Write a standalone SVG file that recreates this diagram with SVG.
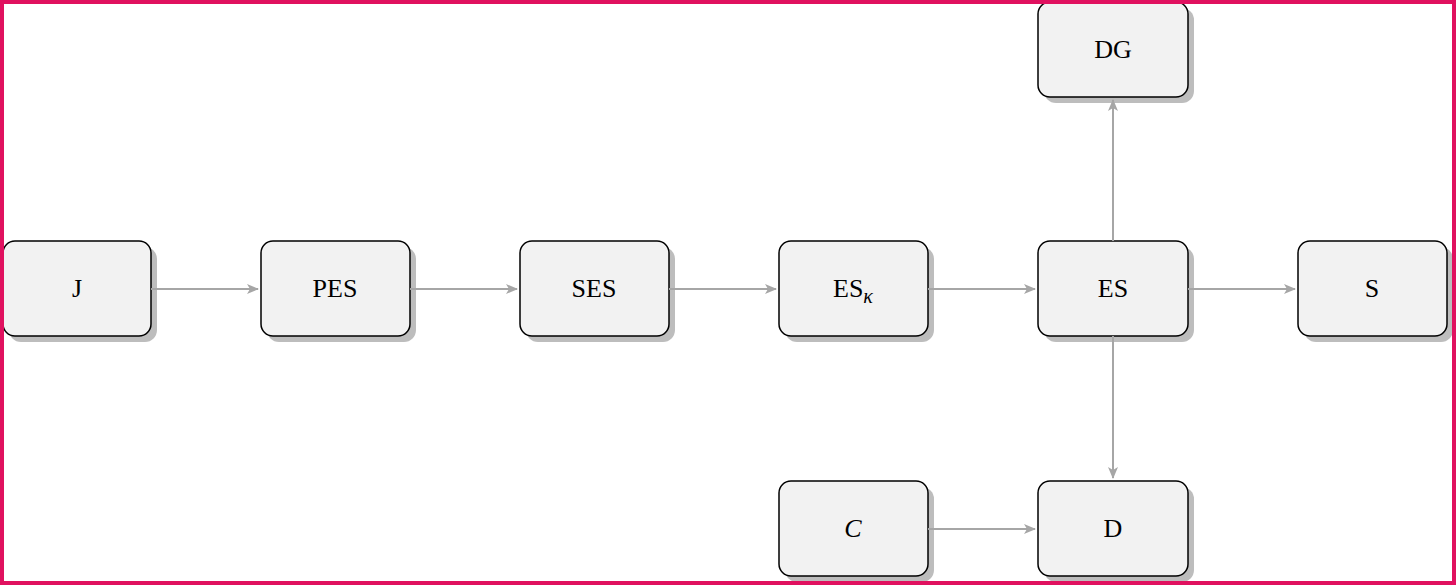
<svg xmlns="http://www.w3.org/2000/svg" width="1456" height="585" viewBox="0 0 1456 585">
<style>
.box{fill:#f2f2f2;stroke:#000;stroke-width:1.5}
.sh{fill:#bdbdbd}
.t{font-family:"Liberation Serif",serif;font-size:26px;text-anchor:middle;fill:#000}
.c{stroke:#a6a6a6;stroke-width:2;fill:none;marker-end:url(#a)}
</style>
<defs>
<marker id="a" viewBox="0 0 12 10" refX="11" refY="5" markerWidth="12" markerHeight="10" markerUnits="userSpaceOnUse" orient="auto">
<path d="M0,0 L12,5 L0,10 L3,5 Z" fill="#a6a6a6"/>
</marker>
</defs>
<rect width="1456" height="585" fill="#fff"/>
<g id="J"><rect class="sh" x="9" y="247" width="148" height="95" rx="12"/><rect class="box" x="3" y="241" width="148" height="95" rx="12"/><text class="t" x="77" y="297">J</text></g>
<g id="PES"><rect class="sh" x="267" y="247" width="149" height="95" rx="12"/><rect class="box" x="261" y="241" width="149" height="95" rx="12"/><text class="t" x="335" y="297">PES</text></g>
<g id="SES"><rect class="sh" x="526" y="247" width="149" height="95" rx="12"/><rect class="box" x="520" y="241" width="149" height="95" rx="12"/><text class="t" x="594" y="297">SES</text></g>
<g id="ESk"><rect class="sh" x="785" y="247" width="149" height="95" rx="12"/><rect class="box" x="779" y="241" width="149" height="95" rx="12"/><text class="t" x="853" y="297">ES<tspan font-style="italic" font-size="20" dy="6">κ</tspan></text></g>
<g id="ES"><rect class="sh" x="1044" y="247" width="150" height="95" rx="12"/><rect class="box" x="1038" y="241" width="150" height="95" rx="12"/><text class="t" x="1113" y="297">ES</text></g>
<g id="S"><rect class="sh" x="1304" y="247" width="149" height="95" rx="12"/><rect class="box" x="1298" y="241" width="149" height="95" rx="12"/><text class="t" x="1372" y="297">S</text></g>
<g id="DG"><rect class="sh" x="1044" y="8" width="150" height="95" rx="12"/><rect class="box" x="1038" y="2" width="150" height="95" rx="12"/><text class="t" x="1113" y="58">DG</text></g>
<g id="C"><rect class="sh" x="785" y="487" width="149" height="95" rx="12"/><rect class="box" x="779" y="481" width="149" height="95" rx="12"/><text class="t" x="853" y="537" font-style="italic">C</text></g>
<g id="D"><rect class="sh" x="1044" y="487" width="150" height="95" rx="12"/><rect class="box" x="1038" y="481" width="150" height="95" rx="12"/><text class="t" x="1113" y="537">D</text></g>
<g id="connectors">
<line class="c" x1="151" y1="289" x2="258" y2="289"/>
<line class="c" x1="410" y1="289" x2="517" y2="289"/>
<line class="c" x1="669" y1="289" x2="776" y2="289"/>
<line class="c" x1="928" y1="289" x2="1035" y2="289"/>
<line class="c" x1="1188" y1="289" x2="1295" y2="289"/>
<line class="c" x1="1113" y1="241" x2="1113" y2="100"/>
<line class="c" x1="1113" y1="336" x2="1113" y2="478"/>
<line class="c" x1="928" y1="529" x2="1035" y2="529"/>
</g>
<rect x="2" y="2" width="1452" height="581" fill="none" stroke="#e0115f" stroke-width="4"/>
</svg>
